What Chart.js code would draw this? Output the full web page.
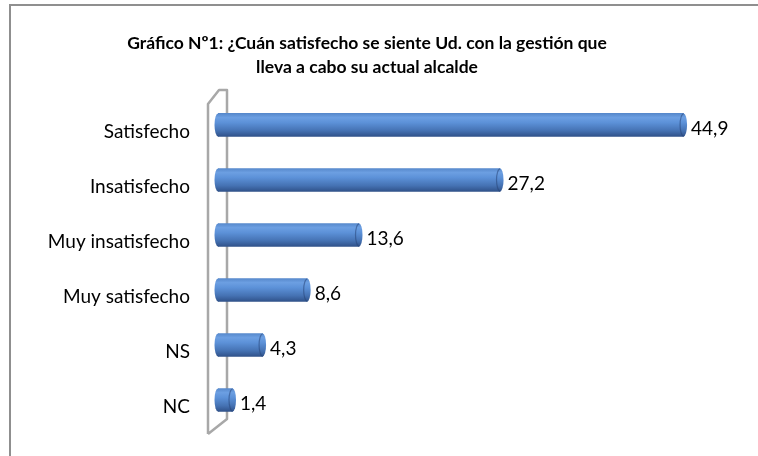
<!DOCTYPE html>
<html>
<head>
<meta charset="utf-8">
<script src="https://cdn.jsdelivr.net/npm/chart.js@4"></script>
<style>
    html, body { margin: 0; padding: 0; background: #ffffff; }
    #chart-box { width: 758px; height: 456px; }
</style>
</head>
<body>
<div id="chart-box"><canvas id="satisfaction-chart" width="758" height="456"></canvas></div>
<script>
// Chart data.
const title_lines = [
    "Gráfico Nº1: ¿Cuán satisfecho se siente Ud. con la gestión que",
    "lleva a cabo su actual alcalde"
];
const categories = ["Satisfecho", "Insatisfecho", "Muy insatisfecho", "Muy satisfecho", "NS", "NC"];
const percentages = [44.9, 27.2, 13.6, 8.6, 4.3, 1.4];

const font_family = "Lato, Carlito, Calibri, 'Open Sans', sans-serif";

/**
 * Vertical gradient that makes a flat bar look like a cylinder.
 * @param {CanvasRenderingContext2D} ctx - canvas context.
 * @param {Number} y - center of the bar.
 * @param {Number} h - bar thickness.
 * @returns {CanvasGradient} gradient.
 */
function cylinder_gradient(ctx, y, h) {
    let grad = ctx.createLinearGradient(0, y - h / 2, 0, y + h / 2);
    grad.addColorStop(0, "#5789cc");
    grad.addColorStop(0.18, "#6c9fe2");
    grad.addColorStop(0.4, "#5c91d8");
    grad.addColorStop(0.75, "#4572b3");
    grad.addColorStop(1, "#30528a");
    return grad;
}

/**
 * Scriptable bar colour.
 * @param {Object} context - chart.js scriptable context.
 * @returns {CanvasGradient|String} fill.
 */
function bar_fill(context) {
    let chart = context.chart;
    if (!chart.chartArea || context.dataIndex === undefined) {
        return "#4f81bd";
    }
    let y = chart.scales.y.getPixelForValue(context.dataIndex);
    return cylinder_gradient(chart.ctx, y, 23);
}

// White background and the chart frame (only top and left edges are in view).
const frame_plugin = {
    id: "frame",
    beforeDraw(chart) {
        let ctx = chart.ctx;
        ctx.save();
        ctx.fillStyle = "#ffffff";
        ctx.fillRect(0, 0, chart.width, chart.height);
        ctx.strokeStyle = "#8f8f8f";
        ctx.lineWidth = 2;
        ctx.strokeRect(10, 5, chart.width + 20, chart.height + 20);
        ctx.restore();
    }
};

// The thin 3D side wall behind the bars.
const wall_plugin = {
    id: "wall",
    beforeDatasetsDraw(chart) {
        let ctx = chart.ctx;
        let area = chart.chartArea;
        let back = area.left - 10;
        let front = area.left + 9;
        ctx.save();
        ctx.strokeStyle = "#a8a8a8";
        ctx.lineWidth = 2.5;
        ctx.lineJoin = "round";
        ctx.beginPath();
        ctx.moveTo(back, area.bottom + 6.5);
        ctx.lineTo(back, area.top + 6.5);
        ctx.lineTo(area.left + 1, area.top - 7.5);
        ctx.lineTo(front, area.top - 7.5);
        ctx.lineTo(front, area.bottom - 8.5);
        ctx.lineTo(back, area.bottom + 6.5);
        ctx.stroke();
        ctx.restore();
    }
};

// Cylinder end caps and value labels.
const caps_plugin = {
    id: "caps",
    afterDatasetsDraw(chart) {
        let ctx = chart.ctx;
        let meta = chart.getDatasetMeta(0);
        ctx.save();
        meta.data.forEach((bar, i) => {
            let h = bar.height;
            let rx = 3.5;

            // Rounded start.
            ctx.fillStyle = cylinder_gradient(ctx, bar.y, h);
            ctx.beginPath();
            ctx.ellipse(bar.base, bar.y, rx, h / 2, 0, 0, Math.PI * 2);
            ctx.fill();

            // End face.
            ctx.beginPath();
            ctx.ellipse(bar.x, bar.y, rx, h / 2, 0, 0, Math.PI * 2);
            ctx.fill();
            ctx.strokeStyle = "rgba(40, 70, 120, 0.55)";
            ctx.lineWidth = 1.2;
            ctx.beginPath();
            ctx.ellipse(bar.x, bar.y, rx, h / 2 - 0.5, 0, Math.PI / 2, Math.PI * 1.5);
            ctx.stroke();

            // Value.
            ctx.fillStyle = "#000000";
            ctx.font = `19px ${font_family}`;
            ctx.textAlign = "left";
            ctx.textBaseline = "middle";
            let label = percentages[i].toFixed(1).replace(".", ",");
            ctx.fillText(label, bar.x + rx + 4, bar.y + 4);
        });
        ctx.restore();
    }
};

window.onload = () => {
    let chart_el = document.querySelector("#satisfaction-chart");

    new Chart(chart_el, {
        type: "bar",
        data: {
            labels: categories,
            datasets: [{
                label: "%",
                data: percentages,
                backgroundColor: bar_fill,
                borderWidth: 0,
                barThickness: 23
            }]
        },
        options: {
            indexAxis: "y",
            responsive: false,
            animation: false,
            events: [],
            layout: {
                padding: { top: 10, left: 10, right: 34, bottom: 28.5 }
            },
            scales: {
                x: {
                    display: false,
                    min: 0,
                    max: 48.8
                },
                y: {
                    grid: { display: false, drawTicks: false },
                    border: { display: false },
                    ticks: {
                        color: "#000000",
                        font: { family: font_family, size: 19 },
                        padding: 28,
                        labelOffset: 7
                    },
                    afterFit: (scale) => {
                        // fixed axis width, and no extra room reserved for the labels above/below
                        scale.width = 208;
                        scale.paddingTop = 0;
                        scale.paddingBottom = 0;
                    }
                }
            },
            plugins: {
                legend: { display: false },
                tooltip: { enabled: false },
                title: {
                    display: true,
                    text: title_lines,
                    color: "#000000",
                    font: { family: font_family, size: 17.5, weight: "bold", lineHeight: 1.37 },
                    padding: { top: 21, bottom: 18.5 }
                }
            }
        },
        plugins: [frame_plugin, wall_plugin, caps_plugin]
    });
}
</script>
</body>
</html>
